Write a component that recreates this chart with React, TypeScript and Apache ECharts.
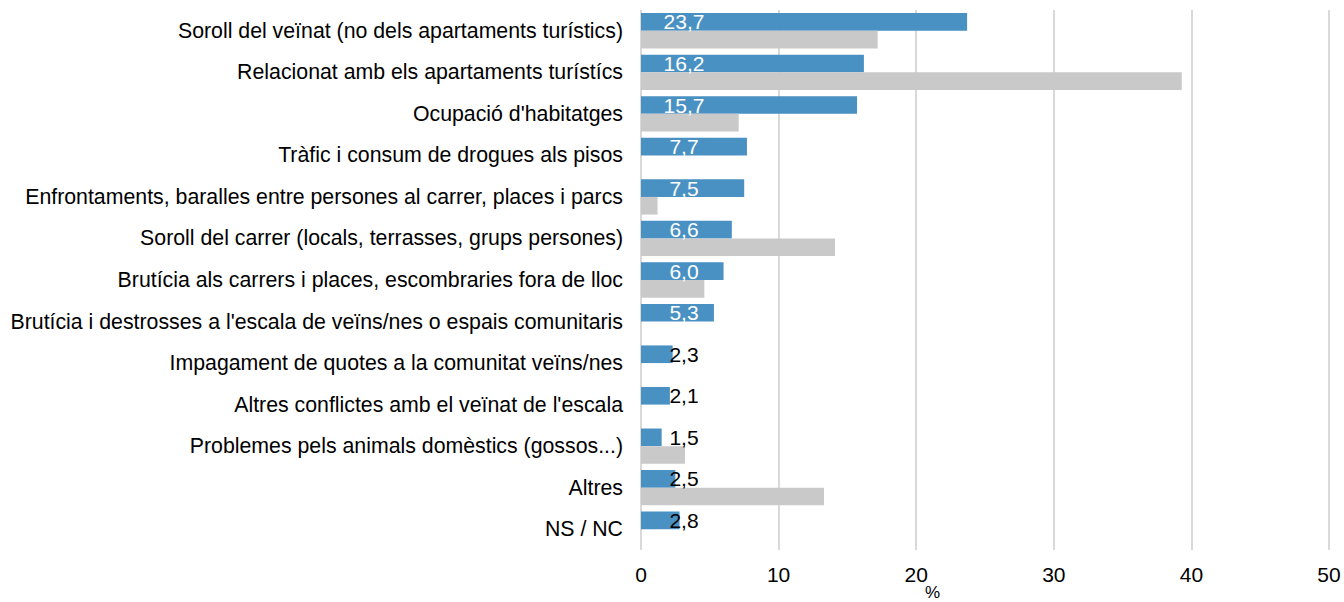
import React, { useEffect, useRef } from "react";
import * as echarts from "echarts";

const categories = [
  "Soroll del veïnat (no dels apartaments turístics)",
  "Relacionat amb els apartaments turístícs",
  "Ocupació d'habitatges",
  "Tràfic i consum de drogues als pisos",
  "Enfrontaments, baralles entre persones al carrer, places i parcs",
  "Soroll del carrer (locals, terrasses, grups persones)",
  "Brutícia als carrers i places, escombraries fora de lloc",
  "Brutícia i destrosses a l'escala de veïns/nes o espais comunitaris",
  "Impagament de quotes a la comunitat veïns/nes",
  "Altres conflictes amb el veïnat de l'escala",
  "Problemes pels animals domèstics (gossos...)",
  "Altres",
  "NS / NC",
];

const blueValues = [23.7, 16.2, 15.7, 7.7, 7.5, 6.6, 6.0, 5.3, 2.3, 2.1, 1.5, 2.5, 2.8];
const grayValues: (number | null)[] = [17.2, 39.3, 7.1, null, 1.2, 14.1, 4.6, null, null, null, 3.2, 13.3, null];

const xTicks = { min: 0, max: 50, interval: 10 };

const FONT = "'Liberation Sans', Arial, sans-serif";

export default function App() {
  const ref = useRef<HTMLDivElement>(null);
  useEffect(() => {
    if (!ref.current) return;
    const chart = echarts.init(ref.current, null, { renderer: "svg" });
    chart.setOption({
      animation: false,
      textStyle: { fontFamily: FONT },
      grid: { left: 641, right: 15, top: 10, bottom: 52, containLabel: false },
      xAxis: {
        type: "value",
        min: xTicks.min,
        max: xTicks.max,
        interval: xTicks.interval,
        axisLine: { show: false },
        axisTick: { show: false },
        splitLine: { show: true, lineStyle: { color: "#d9d9d9", width: 2 } },
        axisLabel: { fontSize: 21, color: "#000", fontFamily: FONT, margin: 14 },
      },
      yAxis: {
        type: "category",
        inverse: true,
        data: categories,
        axisLine: { show: false },
        axisTick: { show: false },
        axisLabel: { fontSize: 21.3, color: "#000", fontFamily: FONT, margin: 18 },
      },
      graphic: [
        {
          type: "text",
          left: 925,
          top: 584,
          style: { text: "%", font: `17px ${FONT}`, fill: "#000" },
        },
      ],
      series: [
        {
          type: "bar",
          barGap: "0%",
          barCategoryGap: "15%",
          itemStyle: { color: "#4a91c3" },
          data: blueValues.map((v) => ({
            value: v,
            label: { color: v > 4 ? "#fff" : "#000" },
          })),
          label: {
            show: true,
            position: [43, "50%"],
            align: "center",
            verticalAlign: "middle",
            fontSize: 21,
            fontFamily: FONT,
            formatter: (p: any) => p.value.toFixed(1).replace(".", ","),
          },
        },
        {
          type: "bar",
          barGap: "0%",
          barCategoryGap: "15%",
          itemStyle: { color: "#c9c9c9" },
          data: grayValues,
        },
      ],
    });
    return () => chart.dispose();
  }, []);
  return <div ref={ref} style={{ width: 1344, height: 602, position: "absolute", left: 0, top: 0 }} />;
}
